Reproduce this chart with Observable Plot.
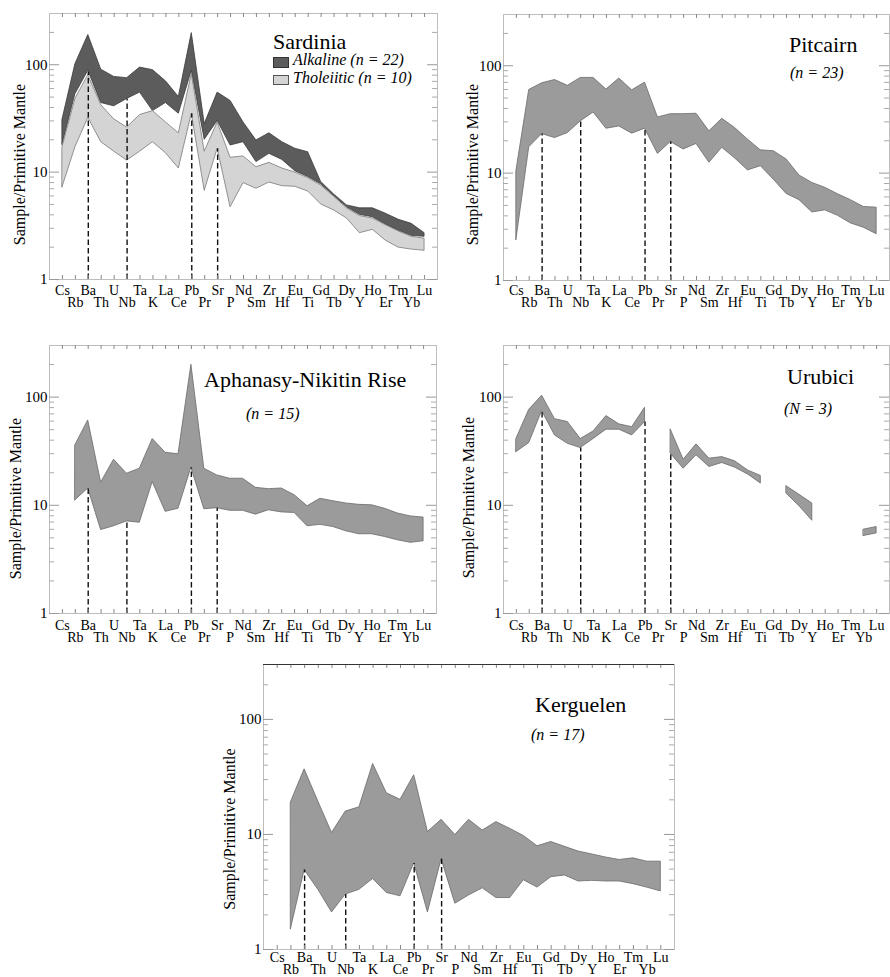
<!DOCTYPE html>
<html><head><meta charset="utf-8">
<script src="https://cdn.jsdelivr.net/npm/d3@7"></script>
<script src="https://cdn.jsdelivr.net/npm/@observablehq/plot@0.6"></script>
<style>
body{margin:0;background:#fff;}
#root{position:relative;width:890px;height:977px;overflow:hidden;background:#fff;font-family:"Liberation Serif","Times New Roman",serif;color:#000}
#root svg, #root svg text{font-family:"Liberation Serif","Times New Roman",serif !important}
.panel{position:absolute}
.t{position:absolute;white-space:nowrap;line-height:1}
.sw{position:absolute;box-sizing:border-box}
</style></head><body><div id="root"></div><script>
// ---------- data ----------
const elements = ["Cs","Rb","Ba","Th","U","Nb","Ta","K","La","Ce","Pb","Pr","Sr","P","Nd","Sm","Zr","Hf","Eu","Ti","Gd","Tb","Dy","Y","Ho","Er","Tm","Yb","Lu"];
const majorTicks = [1, 10, 100];
const minorTicks = [2,3,4,5,6,7,8,9,20,30,40,50,60,70,80,90,200];
const yLabel = "Sample/Primitive Mantle";
const dashElements = ["Ba","Nb","Pb","Sr"];

const sardiniaAlkHigh = [30.6,101,189,90,77,75,94,89,70,50,197,28,55,46,29,19.7,23,19,16.5,15.3,8.1,6.2,4.9,4.6,4.6,4.1,3.6,3.3,2.7];
const sardiniaAlkLow  = [18,53,88,44,41,48,55,37,44,35,88,20,30,17.7,19,12.4,14.8,13,10.2,9.0,7.7,6.0,4.7,4.0,3.8,3.25,2.85,2.55,2.5];
const sardiniaThoHigh = [17,48,80,42,31,26,34,37,29,23,82,15.5,29,13.6,14,11.1,12.2,10.8,9.9,8.8,7.5,5.9,4.6,3.9,3.7,3.2,2.8,2.5,2.4];
const sardiniaThoLow  = [7.2,17,32,19,15.5,12.8,15.5,19,15,10.8,35,6.7,16.5,4.7,7.9,7.0,8.0,7.4,7.3,6.6,5.0,4.4,3.7,2.7,2.9,2.3,1.98,1.9,1.85];
const sardiniaDash = [85,48,35,16.5];

const pitcairnHigh = [10.4,59.5,68.6,73.6,65,77,77,60,76,59,69.6,33,35.4,35.4,35.7,24.5,32,26.3,20.5,16.3,16,13.4,9.5,8.1,7.3,6.35,5.6,4.84,4.77];
const pitcairnLow  = [2.38,17.4,23.1,21.2,23.6,30.3,36.7,25.9,27.2,23.3,25.9,15.1,19.5,16.6,18.7,12.5,17.2,13.7,10.6,11.6,8.7,6.4,5.6,4.3,4.5,4.0,3.4,3.1,2.7];
const pitcairnDash = [23.1,30.3,25.9,19.5];

const aphanasyHigh = [null,35.8,60.9,16.2,26.4,19.6,21.8,41,30.6,29.6,199,21.8,18.9,17.6,17.6,14.5,14.1,14.3,12.4,9.8,11.5,10.9,10.4,10.1,10,9.3,8.4,7.9,7.7];
const aphanasyLow  = [null,11.1,14.3,5.9,6.4,7.1,6.9,16.4,8.7,9.3,22.3,9.2,9.4,8.9,8.9,8.2,9.0,8.6,8.5,6.4,6.6,6.3,5.75,5.4,5.4,5.1,4.75,4.5,4.65];
const aphanasyDash = [14.3,7.1,22.3,9.4];

const urubiciHigh = [41,76.4,103,62.6,58.8,41,48.2,66.8,56,52.8,79.7,null,50,26.4,36.6,27,27.9,25.5,21,18.7,null,15,12.5,10.4,null,null,null,5.96,6.3];
const urubiciLow  = [31,37.6,74.3,44.3,37,33.8,41,50,50,44.3,58.8,null,30,21.8,29,22.6,24.6,22.3,19.3,15.9,null,12.8,9.8,7.2,null,null,null,5.2,5.5];
const urubiciDash = [74.3,33.8,58.8,30];

const kerguelenHigh = [null,19,36.8,19.3,10.3,15.8,17.2,41,22.8,20,32.7,10.5,13.4,9.9,13.4,10.8,12.8,11.2,9.7,7.9,8.6,7.8,7.1,6.7,6.3,6.0,6.2,5.8,5.8];
const kerguelenLow  = [null,1.5,4.9,3.3,2.1,3.0,3.3,4.1,3.1,2.9,5.6,2.1,6.1,2.5,2.95,3.4,2.8,2.8,4.0,3.45,4.25,4.4,3.9,3.95,3.9,3.9,3.7,3.45,3.2];
const kerguelenDash = [4.9,3.0,5.6,6.1];

// ---------- drawing ----------
const FONT = "'Liberation Serif','Times New Roman',serif";
const root = document.getElementById("root");
const idx = elements.map((e, i) => i);
const evens = idx.filter(i => i % 2 === 0);
const odds = idx.filter(i => i % 2 === 1);

function bandRows(high, low) {
  return elements.map((e, i) => ({i, el: e, hi: high[i], lo: low[i]}));
}

function panel(cfg) {
  const fw = cfg.width - cfg.mL - cfg.mR, fh = cfg.height - cfg.mT - cfg.mB;
  const dashRows = dashElements.map((e, k) => ({i: elements.indexOf(e), top: cfg.dash[k]}));
  const marks = [
    Plot.frame({stroke: "#bdbdbd"}),
    ...cfg.bands.map(b => Plot.areaY(bandRows(b.high, b.low), {x: "i", y1: "lo", y2: "hi", fill: b.fill, stroke: b.stroke, strokeWidth: 0.8})),
    Plot.ruleX(dashRows, {x: "i", y1: 1, y2: "top", stroke: "#111", strokeWidth: 1.4, strokeDasharray: "5.5,3"}),
    Plot.tickY(majorTicks, {y: d => d, insetRight: fw - 10, stroke: "#999"}),
    Plot.tickY(minorTicks, {y: d => d, insetRight: fw - 5, stroke: "#aaa"}),
    Plot.tickY(majorTicks, {y: d => d, insetLeft: fw - 10, stroke: "#999"}),
    Plot.tickY(minorTicks, {y: d => d, insetLeft: fw - 5, stroke: "#aaa"}),
    Plot.tickX(idx, {x: d => d, insetTop: fh - 4, stroke: "#888"}),
    Plot.tickX(idx, {x: d => d, insetBottom: fh - 4, stroke: "#888"}),
    Plot.axisY({ticks: majorTicks, tickSize: 0, tickPadding: 2, tickFormat: d => String(d), fontSize: 15, label: null}),
    Plot.axisX({ticks: evens, tickSize: 0, tickPadding: cfg.pad1, tickFormat: i => elements[i], fontSize: 14, label: null}),
    Plot.axisX({ticks: odds, tickSize: 0, tickPadding: cfg.pad2, tickFormat: i => elements[i], fontSize: 14, label: null}),
    Plot.text([yLabel], {frameAnchor: "left", textAnchor: "middle", lineAnchor: "middle", dx: cfg.labDx, dy: cfg.labDy, rotate: -90, text: d => d, fontSize: 16})
  ];
  if (cfg.topRule) marks.push(Plot.ruleY([300], {stroke: "#333"}));
  const svg = Plot.plot({
    width: cfg.width, height: cfg.height,
    marginLeft: cfg.mL, marginRight: cfg.mR, marginTop: cfg.mT, marginBottom: cfg.mB,
    x: {type: "linear", domain: [-1, 29]},
    y: {type: "log", domain: [1, 300]},
    style: {fontFamily: FONT, fontSize: "15px", color: "#000", background: "transparent", overflow: "visible"},
    marks
  });
  const wrap = document.createElement("div");
  wrap.className = "panel";
  wrap.style.left = cfg.left + "px";
  wrap.style.top = cfg.top + "px";
  wrap.appendChild(svg);
  root.appendChild(wrap);
}

function text(str, left, baseline, size, italic) {
  const d = document.createElement("div");
  d.className = "t";
  d.textContent = str;
  d.style.left = left + "px";
  d.style.top = (baseline - 0.8375 * size) + "px";
  d.style.fontSize = size + "px";
  if (italic) d.style.fontStyle = "italic";
  root.appendChild(d);
}
function swatch(left, top, w, h, fill, border) {
  const d = document.createElement("div");
  d.className = "sw";
  Object.assign(d.style, {left: left + "px", top: top + "px", width: w + "px", height: h + "px", background: fill, border: "1px solid " + border});
  root.appendChild(d);
}

const DARK = "#5c5c5c", LIGHT = "#d4d4d4", MID = "#9b9b9b";

panel({left: 0, top: 0, width: 445, height: 320, mL: 49, mR: 8, mT: 13, mB: 41, pad1: 6, pad2: 18, labDx: -30, labDy: 18,
  bands: [
    {high: sardiniaAlkHigh, low: sardiniaAlkLow, fill: DARK, stroke: "#3a3a3a"},
    {high: sardiniaThoHigh, low: sardiniaThoLow, fill: LIGHT, stroke: "#7a7a7a"}
  ], dash: sardiniaDash});
panel({left: 445, top: 0, width: 445, height: 320, mL: 58, mR: 1, mT: 14, mB: 40, pad1: 5, pad2: 17, labDx: -31, labDy: 17,
  bands: [{high: pitcairnHigh, low: pitcairnLow, fill: MID, stroke: "#6a6a6a"}], dash: pitcairnDash});
panel({left: 0, top: 320, width: 445, height: 330, mL: 49, mR: 9, mT: 25, mB: 37, pad1: 7, pad2: 19, labDx: -34, labDy: 19,
  bands: [{high: aphanasyHigh, low: aphanasyLow, fill: MID, stroke: "#6a6a6a"}], dash: aphanasyDash});
panel({left: 445, top: 320, width: 445, height: 330, mL: 58, mR: 1, mT: 25, mB: 37, pad1: 7, pad2: 19, labDx: -35, labDy: 18,
  bands: [{high: urubiciHigh, low: urubiciLow, fill: MID, stroke: "#6a6a6a"}], dash: urubiciDash});
panel({left: 210, top: 650, width: 470, height: 327, mL: 53, mR: 6, mT: 14, mB: 28, pad1: 3, pad2: 15, labDx: -34, labDy: 22, topRule: true,
  bands: [{high: kerguelenHigh, low: kerguelenLow, fill: MID, stroke: "#6a6a6a"}], dash: kerguelenDash});

// titles and legend
text("Sardinia", 273, 49, 22);
swatch(273, 57, 16, 11, DARK, "#333");
text("Alkaline (n = 22)", 293, 65.5, 16, true);
swatch(273, 75, 16, 10, LIGHT, "#555");
text("Tholeiitic (n = 10)", 293, 83, 16, true);
text("Pitcairn", 789, 52, 22);
text("(n = 23)", 790, 78, 16, true);
text("Aphanasy-Nikitin Rise", 204, 387, 22);
text("(n = 15)", 246, 419, 16, true);
text("Urubici", 787, 384, 22);
text("(N = 3)", 784, 414, 16, true);
text("Kerguelen", 535, 712, 22);
text("(n = 17)", 531, 740, 16, true);
</script></body></html>
